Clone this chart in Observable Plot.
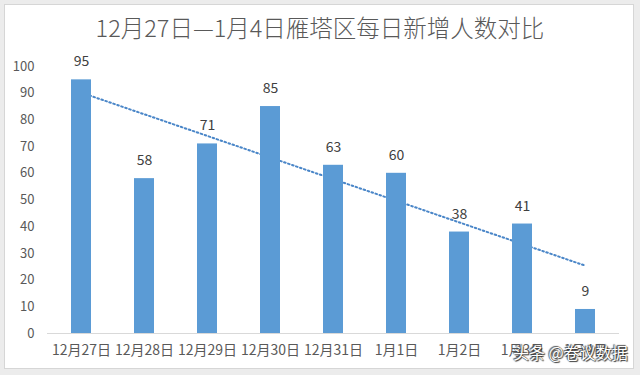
<!DOCTYPE html>
<html>
<head>
<meta charset="utf-8">
<script src="https://cdn.jsdelivr.net/npm/d3@7"></script>
<script src="https://cdn.jsdelivr.net/npm/@observablehq/plot@0.6"></script>
<style>
  html, body { margin: 0; padding: 0; background: #ececec; }
  #wrap { position: relative; width: 640px; height: 375px; overflow: hidden; }
  #frame { position: absolute; left: 4px; top: 4px; width: 628px; height: 363px; background: #fff; border: 1px solid #d6d6d6; }
  #title { position: absolute; left: 0; top: 10px; width: 640px; text-align: center; font-family: "Noto Sans CJK SC", sans-serif; font-size: 23.5px; line-height: 34px; font-weight: 300; color: #595959; }
  #chart { position: absolute; left: 0; top: 0; }
  #wm { position: absolute; left: 513px; top: 340px; font-family: "Noto Sans CJK SC", sans-serif; font-size: 16px; color: #fff; text-shadow: 0 0 1px #333, 1px 1px 1px #333, -1px -1px 1px #555; white-space: nowrap; }
</style>
</head>
<body>
<div id="wrap">
  <div id="frame"></div>
  <div id="chart"></div>
  <div id="title">12月27日—1月4日雁塔区每日新增人数对比</div>
  <div id="wm">头条 @卷议数据</div>
</div>
<script>
const dates = ["12月27日", "12月28日", "12月29日", "12月30日", "12月31日", "1月1日", "1月2日", "1月3日", "1月4日"];
const counts = [95, 58, 71, 85, 63, 60, 38, 41, 9];
const yTicks = [0, 10, 20, 30, 40, 50, 60, 70, 80, 90, 100];

const data = dates.map((d, i) => ({date: d, value: counts[i], i}));

// Linear trendline (least squares over category index), like Excel's trendline
const mx = d3.mean(data, d => d.i), my = d3.mean(counts);
const slope = d3.sum(data, d => (d.i - mx) * (d.value - my)) / d3.sum(data, d => (d.i - mx) ** 2);
const trend = data.map(d => ({date: d.date, fit: my + slope * (d.i - mx)}));

const chart = Plot.plot({
  width: 640,
  height: 375,
  marginTop: 66,
  marginBottom: 42,
  marginLeft: 47,
  marginRight: 21,
  style: {background: "transparent", fontFamily: "'Noto Sans CJK SC', sans-serif"},
  x: {domain: dates, paddingInner: 0.69, paddingOuter: 0.345, label: null},
  y: {domain: [0, 100], label: null},
  marks: [
    Plot.ruleY([0], {stroke: "#d9d9d9", strokeWidth: 1}),
    Plot.line(trend, {x: "date", y: "fit", stroke: "#4a86c8", strokeWidth: 2, strokeDasharray: "1.6,2.6"}),
    Plot.barY(data, {x: "date", y: "value", fill: "#5b9bd5"}),
    Plot.text(data, {x: "date", y: "value", text: d => String(d.value), dy: -18, fill: "#404040", fontSize: 14}),
    Plot.axisX({tickSize: 0, tickPadding: 12, fontSize: 14, color: "#595959", label: null}),
    Plot.axisY({ticks: yTicks, tickSize: 0, tickPadding: 13, fontSize: 13, color: "#595959", label: null})
  ]
});
document.getElementById("chart").appendChild(chart);
</script>
</body>
</html>
